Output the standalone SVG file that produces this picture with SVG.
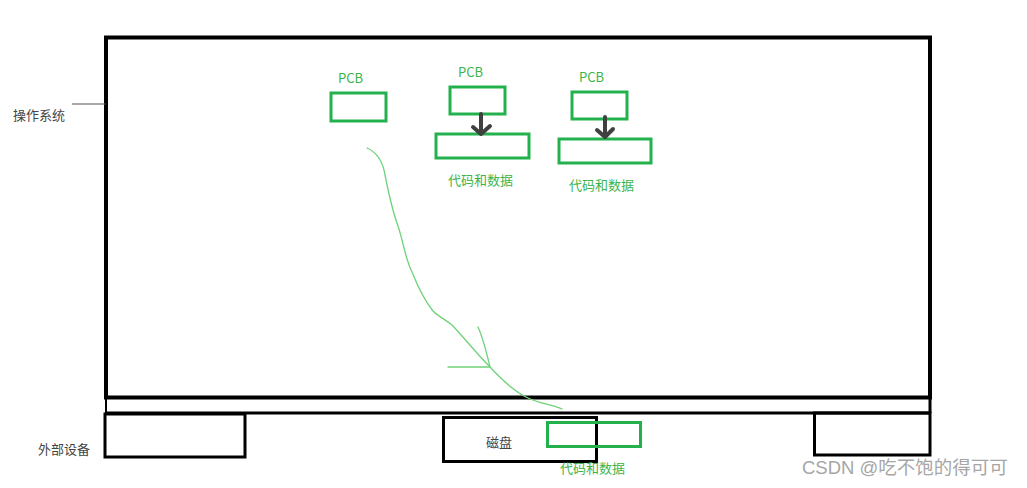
<svg xmlns="http://www.w3.org/2000/svg" width="1027" height="488" viewBox="0 0 1027 488">
<style>
.blk{fill:none;stroke:#000;}
.gbox{fill:none;stroke:#22b14c;stroke-width:3;}
.gt{font-family:"Noto Sans CJK SC","Liberation Sans",sans-serif;font-size:13px;fill:#3cb44b;}
.dt{font-family:"Noto Sans CJK SC","Liberation Sans",sans-serif;font-size:13px;fill:#444;}
.darr{fill:none;stroke:#404040;stroke-width:4;stroke-linecap:round;stroke-linejoin:round;}
.curve{fill:none;stroke:#6fd27a;stroke-width:1.3;stroke-linecap:round;}
</style>
<rect width="1027" height="488" fill="#fff"/>
<g id="os">
<rect class="blk" x="106" y="37.5" width="824" height="360" stroke-width="4"/>
<line x1="72" y1="104" x2="106" y2="104" stroke="#555" stroke-width="1"/>
<text class="dt" x="13" y="120" font-size="14">操作系统</text>
</g>
<g id="bar">
<line class="blk" x1="106" y1="397" x2="106" y2="413" stroke-width="2"/>
<line class="blk" x1="930" y1="397" x2="930" y2="413" stroke-width="3"/>
<line class="blk" x1="105" y1="413" x2="931" y2="413" stroke-width="3"/>
</g>
<g id="device1">
<rect class="blk" x="105" y="414" width="140" height="43" stroke-width="3"/>
<text class="dt" x="38" y="454" font-size="14">外部设备</text>
</g>
<g id="device2">
<rect class="blk" x="814.5" y="413" width="115.5" height="42" stroke-width="3"/>
</g>
<g id="disk">
<rect class="blk" x="443.5" y="417.5" width="153" height="44" stroke-width="3"/>
<text class="dt" x="486" y="447">磁盘</text>
</g>
<g id="disk-code">
<rect class="gbox" x="547.5" y="422.5" width="93" height="24"/>
<text class="gt" x="560" y="473">代码和数据</text>
</g>
<g id="pcb1">
<text class="gt" x="338" y="83">PCB</text>
<rect class="gbox" x="331" y="93" width="55" height="28"/>
</g>
<g id="pcb2">
<text class="gt" x="458" y="77">PCB</text>
<rect class="gbox" x="450" y="87" width="55" height="27"/>
</g>
<g id="code2">
<rect class="gbox" x="436" y="134" width="93" height="24"/>
<text class="gt" x="448" y="185">代码和数据</text>
</g>
<g id="pcb3">
<text class="gt" x="579" y="82">PCB</text>
<rect class="gbox" x="572" y="92" width="55" height="27"/>
</g>
<g id="code3">
<rect class="gbox" x="559" y="139" width="92" height="24"/>
<text class="gt" x="569" y="190">代码和数据</text>
</g>
<g id="connectors">
<path class="darr" d="M481 114 L481 134 M473 127 L481 134 L490 126"/>
<path class="darr" d="M605 117 L605 137 M597 130 L605 137 L613 129"/>
<path class="curve" d="M367 148 C378 153 383 162 385 175 C389 195 392 210 398 226 C404 244 405 258 412 272 C418 287 424 300 433 311 C440 318 447 320 453 326 C466 340 478 355 490 367 C502 380 515 392 528 398 C540 404 552 404 562 409"/>
<path class="curve" d="M478 327 C483 338 486 350 490 367 M448 367 L490 367"/>
</g>
<text x="802" y="474" font-family="'Liberation Sans','Noto Sans CJK SC',sans-serif" font-size="18.5" fill="#a6a6a6">CSDN @吃不饱的得可可</text>
</svg>
